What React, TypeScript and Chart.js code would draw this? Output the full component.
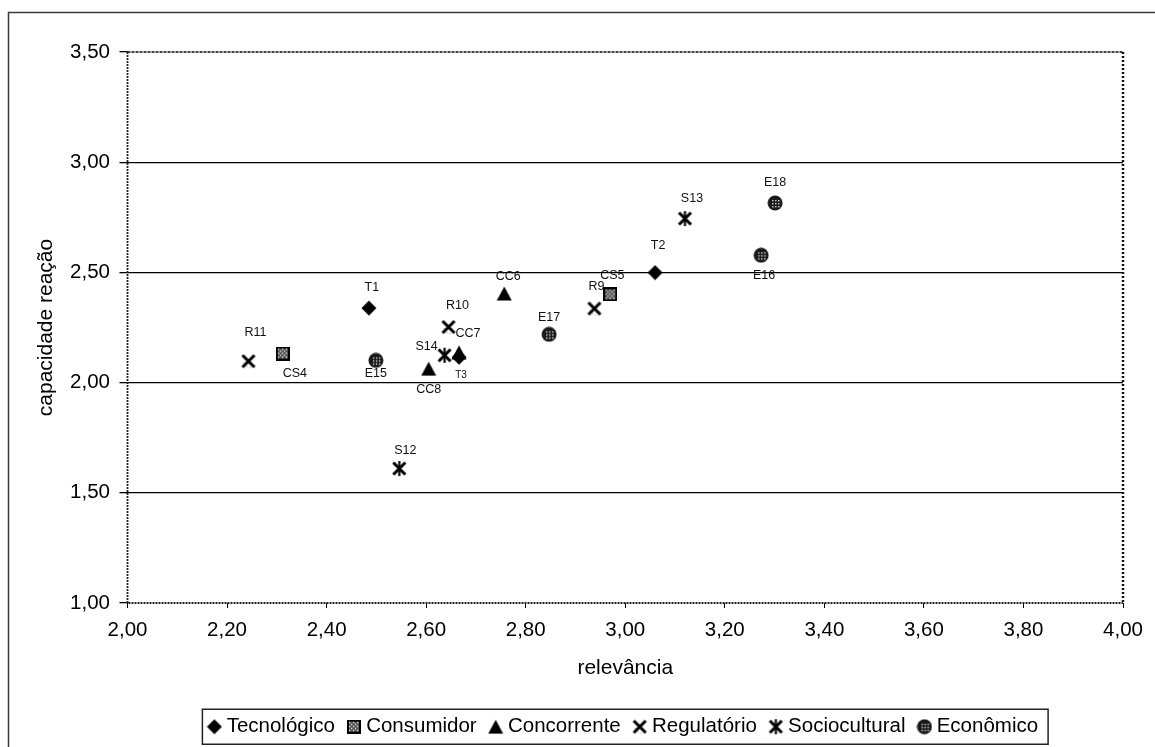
import React, { useEffect, useRef } from 'react';
import { Chart, registerables } from 'chart.js';

Chart.register(...registerables);

// ---------- data ----------
const seriesNames = ['Tecnológico', 'Consumidor', 'Concorrente', 'Regulatório', 'Sociocultural', 'Econômico'];

const tecnologicoLabels = ['T1', 'T2', 'T3'];
const tecnologicoX = [2.485, 3.06, 2.666];
const tecnologicoY = [2.338, 2.499, 2.115];

const consumidorLabels = ['CS4', 'CS5'];
const consumidorX = [2.312, 2.97];
const consumidorY = [2.132, 2.4];

const concorrenteLabels = ['CC6', 'CC7', 'CC8'];
const concorrenteX = [2.757, 2.666, 2.605];
const concorrenteY = [2.404, 2.137, 2.063];

const regulatorioLabels = ['R9', 'R10', 'R11'];
const regulatorioX = [2.938, 2.645, 2.243];
const regulatorioY = [2.336, 2.252, 2.097];

const socioculturalLabels = ['S12', 'S13', 'S14'];
const socioculturalX = [2.546, 3.12, 2.637];
const socioculturalY = [1.61, 2.744, 2.124];

const economicoLabels = ['E15', 'E16', 'E17', 'E18'];
const economicoX = [2.499, 3.273, 2.847, 3.301];
const economicoY = [2.101, 2.578, 2.219, 2.815];

const xAxisTitle = 'relevância';
const yAxisTitle = 'capacidade reação';
const xMin = 2, xMax = 4, xStep = 0.2;
const yMin = 1, yMax = 3.5, yStep = 0.5;
const yGridValues = [1.5, 2, 2.5, 3];

// ---------- styling ----------
const FONT = "'Liberation Sans', Arial, Helvetica, sans-serif";

// label placement relative to marker (pixels)
const labelOffsets: Record<string, [number, number]> = {
  T1: [3, -21], T2: [3, -27], T3: [2, 18],
  CS4: [12, 20], CS5: [2, -19],
  CC6: [4, -17], CC7: [9, -19], CC8: [0, 21],
  R9: [2, -22], R10: [9, -22], R11: [7, -29],
  S12: [6, -18], S13: [7, -20], S14: [-18, -9],
  E15: [0, 13], E16: [3, 20], E17: [0, -17], E18: [0, -20],
};
const smallLabels = new Set(['T3']);

function makeCanvas(w: number, h: number, draw: (g: CanvasRenderingContext2D) => void) {
  const c = document.createElement('canvas');
  c.width = w;
  c.height = h;
  const g = c.getContext('2d')!;
  draw(g);
  return c;
}

function makeMarkers() {
  const diamond = makeCanvas(16, 16, (g) => {
    g.fillStyle = '#000';
    g.beginPath();
    g.moveTo(8, 0.5); g.lineTo(15.5, 8); g.lineTo(8, 15.5); g.lineTo(0.5, 8);
    g.closePath(); g.fill();
  });
  const square = makeCanvas(14, 14, (g) => {
    g.fillStyle = '#000';
    g.fillRect(0, 0, 14, 14);
    g.fillStyle = '#555';
    g.fillRect(2, 2, 10, 10);
    g.fillStyle = '#eee';
    for (let i = 2; i < 12; i += 2) for (let j = 2; j < 12; j += 2) {
      if (((i + j) / 2) % 2 === 0) g.fillRect(i, j, 1.3, 1.3);
    }
  });
  const triangle = makeCanvas(16, 15, (g) => {
    g.fillStyle = '#000';
    g.beginPath();
    g.moveTo(8, 0.5); g.lineTo(15.5, 14.5); g.lineTo(0.5, 14.5);
    g.closePath(); g.fill();
  });
  const cross = makeCanvas(16, 16, (g) => {
    g.strokeStyle = '#000';
    g.lineWidth = 3;
    g.beginPath();
    g.moveTo(2, 2); g.lineTo(14, 14);
    g.moveTo(14, 2); g.lineTo(2, 14);
    g.stroke();
    g.fillStyle = 'rgba(0,0,0,0.35)';
    g.fillRect(6, 13, 1, 1); g.fillRect(9, 14, 1, 1); g.fillRect(3, 9, 1, 1);
  });
  const star = makeCanvas(17, 17, (g) => {
    g.strokeStyle = '#000';
    g.lineWidth = 3;
    g.beginPath();
    g.moveTo(2.5, 2.5); g.lineTo(14.5, 14.5);
    g.moveTo(14.5, 2.5); g.lineTo(2.5, 14.5);
    g.stroke();
    g.lineWidth = 2.2;
    g.beginPath();
    g.moveTo(8.5, 1); g.lineTo(8.5, 16);
    g.stroke();
  });
  const circle = makeCanvas(16, 16, (g) => {
    g.fillStyle = '#1a1a1a';
    g.beginPath();
    g.arc(8, 8, 7.5, 0, Math.PI * 2);
    g.fill();
    g.fillStyle = '#d8d8d8';
    for (let i = 2; i < 15; i += 3) for (let j = 2; j < 15; j += 3) {
      const dx = i + 0.5 - 8, dy = j + 0.5 - 8;
      if (dx * dx + dy * dy < 30) g.fillRect(i, j, 1.4, 1.4);
    }
  });
  return [diamond, square, triangle, cross, star, circle];
}

const fmt = (v: number) => Number(v).toFixed(2).replace('.', ',');

export default function App() {
  const ref = useRef<HTMLCanvasElement | null>(null);

  useEffect(() => {
    document.body.style.margin = '0';
    document.body.style.overflow = 'hidden';
    document.body.style.background = '#fff';
    const canvas = ref.current;
    if (!canvas) return;
    const markers = makeMarkers();

    const seriesX = [tecnologicoX, consumidorX, concorrenteX, regulatorioX, socioculturalX, economicoX];
    const seriesY = [tecnologicoY, consumidorY, concorrenteY, regulatorioY, socioculturalY, economicoY];
    const seriesLabels = [tecnologicoLabels, consumidorLabels, concorrenteLabels, regulatorioLabels, socioculturalLabels, economicoLabels];

    const datasets = seriesNames.map((name, i) => ({
      label: name,
      data: seriesX[i].map((x, j) => ({ x, y: seriesY[i][j] })),
      pointStyle: markers[i] as any,
      pointRadius: 8,
      pointHoverRadius: 8,
      backgroundColor: '#000',
      borderColor: '#000',
      showLine: false,
    }));

    const framePlugin = {
      id: 'frame',
      beforeDraw(chart: any) {
        const { ctx } = chart;
        ctx.save();
        ctx.fillStyle = '#fff';
        ctx.fillRect(0, 0, chart.width, chart.height);
        // outer page frame
        ctx.strokeStyle = '#3a3a3a';
        ctx.lineWidth = 1.5;
        ctx.beginPath();
        ctx.moveTo(8.5, chart.height);
        ctx.lineTo(8.5, 12.5);
        ctx.lineTo(chart.width, 12.5);
        ctx.stroke();
        ctx.restore();
      },
      beforeDatasetsDraw(chart: any) {
        const { ctx, chartArea: a } = chart;
        ctx.save();
        ctx.strokeStyle = '#444';
        ctx.lineWidth = 2;
        ctx.setLineDash([3, 1]);
        ctx.beginPath();
        ctx.moveTo(a.left, a.top);
        ctx.lineTo(a.right, a.top);
        ctx.stroke();
        ctx.strokeStyle = '#111';
        ctx.lineWidth = 2.5;
        ctx.setLineDash([2, 2]);
        ctx.beginPath();
        ctx.moveTo(a.right, a.top);
        ctx.lineTo(a.right, a.bottom);
        ctx.stroke();
        // left and bottom axis lines (slightly ragged, like the scan)
        ctx.strokeStyle = '#222';
        ctx.lineWidth = 1.8;
        ctx.setLineDash([2, 1]);
        ctx.beginPath();
        ctx.moveTo(a.left, a.top);
        ctx.lineTo(a.left, a.bottom);
        ctx.lineTo(a.right, a.bottom);
        ctx.stroke();
        ctx.restore();
      },
    };

    const labelPlugin = {
      id: 'pointLabels',
      afterDatasetsDraw(chart: any) {
        const { ctx } = chart;
        ctx.save();
        ctx.fillStyle = '#111';
        ctx.textAlign = 'center';
        ctx.textBaseline = 'middle';
        chart.data.datasets.forEach((_: any, i: number) => {
          const meta = chart.getDatasetMeta(i);
          meta.data.forEach((el: any, j: number) => {
            const name = seriesLabels[i][j];
            const off = labelOffsets[name] || [0, -18];
            ctx.font = smallLabels.has(name) ? `10px ${FONT}` : `12.5px ${FONT}`;
            ctx.fillText(name, el.x + off[0], el.y + off[1]);
          });
        });
        ctx.restore();
      },
    };

    const legendBoxPlugin = {
      id: 'legendBox',
      afterDraw(chart: any) {
        const boxes = chart.legend && chart.legend.legendHitBoxes;
        if (!boxes || !boxes.length) return;
        const first = boxes[0];
        const last = boxes[boxes.length - 1];
        const left = first.left - 10;
        const right = last.left + last.width + 10;
        const cy = first.top + first.height / 2;
        const { ctx } = chart;
        ctx.save();
        ctx.strokeStyle = '#222';
        ctx.lineWidth = 1.5;
        ctx.strokeRect(left, cy - 17.5, right - left, 35);
        ctx.restore();
      },
    };

    const chart = new Chart(canvas, {
      type: 'scatter',
      data: { datasets: datasets as any },
      options: {
        animation: false,
        responsive: false,
        devicePixelRatio: 1,
        layout: { padding: { top: 52, right: 32, left: 0, bottom: 0 } },
        plugins: {
          legend: {
            position: 'bottom',
            fullSize: false,
            labels: {
              usePointStyle: true,
              boxWidth: 4,
              padding: 17,
              color: '#000',
              font: { family: FONT, size: 20.5 },
            },
          },
          tooltip: { enabled: false },
        },
        scales: {
          x: {
            type: 'linear',
            min: xMin,
            max: xMax,
            ticks: {
              stepSize: xStep,
              callback: (v: any) => fmt(v),
              color: '#000',
              font: { family: FONT, size: 20.5 },
              padding: 10,
              maxRotation: 0,
            },
            grid: { drawOnChartArea: false, drawTicks: true, tickLength: 5, tickColor: '#000', tickWidth: 1 },
            border: { display: false },
            title: {
              display: true,
              text: xAxisTitle,
              color: '#000',
              font: { family: FONT, size: 21 },
              padding: { top: 0, bottom: 19 },
            },
            afterFit: (s: any) => { s.height = 96.5; },
          },
          y: {
            type: 'linear',
            min: yMin,
            max: yMax,
            ticks: {
              stepSize: yStep,
              callback: (v: any) => fmt(v),
              color: '#000',
              font: { family: FONT, size: 20.5 },
              padding: 9.5,
            },
            grid: {
              color: (c: any) => (c.tick && yGridValues.some((g) => Math.abs(g - c.tick.value) < 1e-6) ? '#000' : 'rgba(0,0,0,0)'),
              lineWidth: 1.3,
              drawTicks: true,
              tickLength: 8,
              tickColor: '#000',
              tickWidth: 1.3,
            },
            border: { display: false },
            title: {
              display: true,
              text: yAxisTitle,
              color: '#000',
              font: { family: FONT, size: 21 },
              padding: { top: 34, bottom: 0 },
            },
            afterFit: (s: any) => { s.width = 127.5; },
          },
        },
      } as any,
      plugins: [framePlugin, labelPlugin, legendBoxPlugin],
    });

    return () => chart.destroy();
  }, []);

  return (
    <div style={{ width: 1155, height: 747, position: 'relative', background: '#fff' }}>
      <canvas ref={ref} width={1155} height={747} style={{ display: 'block', width: 1155, height: 747 }} />
    </div>
  );
}
